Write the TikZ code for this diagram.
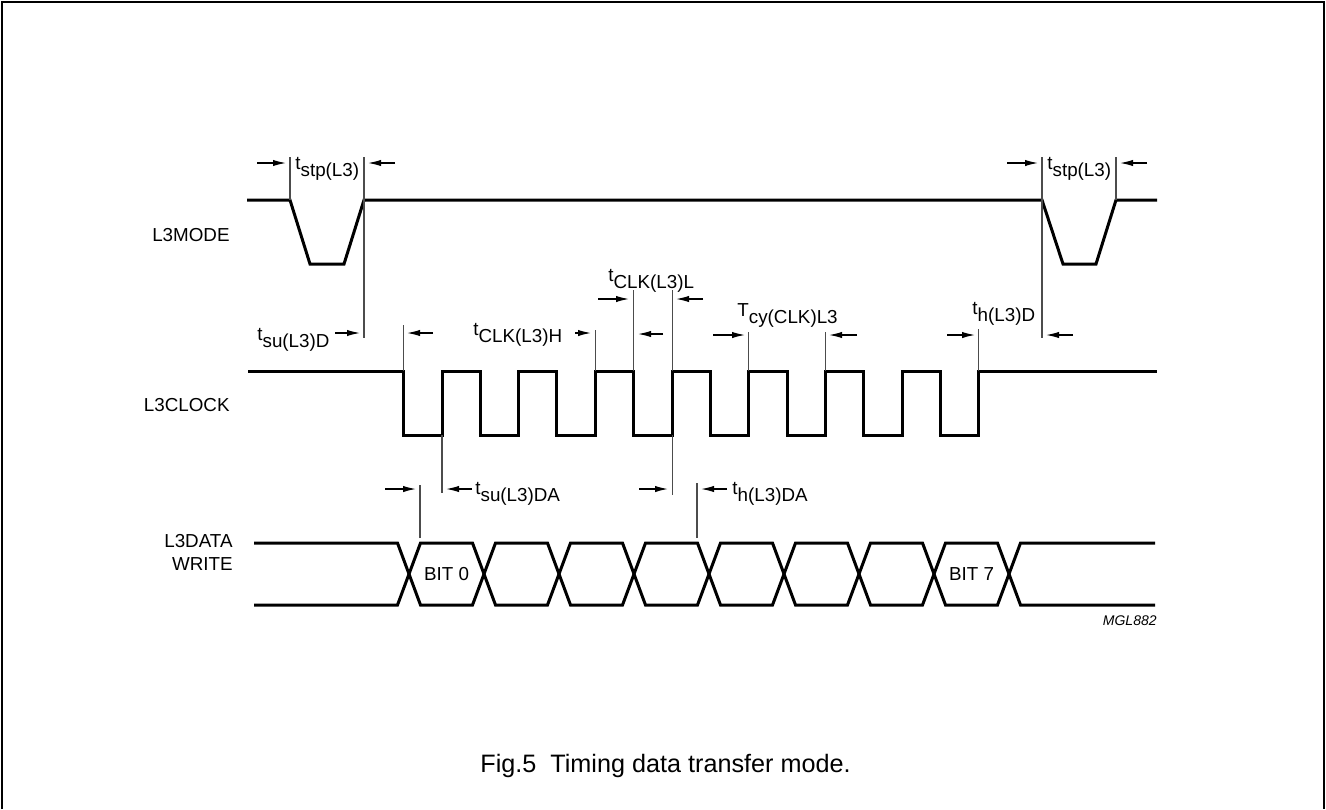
\documentclass[tikz,border=0pt]{standalone}
\usepackage{fontspec}
\setmainfont{Liberation Sans}
\usetikzlibrary{arrows.meta}
\def\tsub#1#2{\raisebox{0.65ex}{#1}#2}% symbol raised, index on the baseline

\begin{document}
\begin{tikzpicture}
    [x=0.5pt,y=-0.5pt,
     sig/.style={black,line width=1.5pt,line join=miter},
     tick/.style={black!70,line width=0.55pt},
     dim/.style={black,line width=0.65pt,-{Latex[length=6.5pt,width=3.2pt]}},
     txt/.style={inner sep=0pt,font=\fontsize{9.4}{11.5}\selectfont}]
    \useasboundingbox (0,0) rectangle (1326,809);
    \draw[line width=0.8pt] (2,809) -- (2,2) -- (1324,2) -- (1324,809);

    % signal names
    \node[txt,anchor=base east] (nmode) at (230,241) {L3MODE};
    \node[txt,anchor=base east] (nclock) at (230,411) {L3CLOCK};
    \node[txt,anchor=base east,align=right] (ndata) at (233,570) {L3DATA\\WRITE};

    % L3MODE
    \coordinate (mfa) at (290,200);
    \coordinate (mra) at (364,200);
    \coordinate (mfb) at (1042,200);
    \coordinate (mrb) at (1116,200);
    \draw[sig] (247,200) -- (mfa) -- (310,264) -- (344,264) -- (mra)
        -- (mfb) -- (1063,264) -- (1096,264) -- (mrb) -- (1157,200);

    % L3CLOCK
    \foreach \k in {0,...,7} {
        \coordinate (f\k) at ({403.5+76.7*\k},371);
        \coordinate (r\k) at ({442+76.7*\k},371);
    }
    \draw[sig] (248,371) foreach \k in {0,...,7} {
        -- ({403.5+76.7*\k},371) -- ({403.5+76.7*\k},435)
        -- ({442+76.7*\k},435) -- ({442+76.7*\k},371) } -- (1157,371);

    % L3DATA
    \def\h{11.5}
    \draw[sig] (254,543) -- (409-\h,543) -- (409,574) -- (409-\h,605) -- (254,605);
    \foreach \k in {0,...,7}
        \draw[sig] ({409+75*\k},574) -- ({409+75*\k+\h},543) -- ({484+75*\k-\h},543)
            -- ({484+75*\k},574) -- ({484+75*\k-\h},605) -- ({409+75*\k+\h},605) -- cycle;
    \draw[sig] (1155,543) -- (1009+\h,543) -- (1009,574) -- (1009+\h,605) -- (1155,605);
    \node[txt] (bit0) at (446.5,574) {BIT 0};
    \node[txt] (bit7) at (971.5,574) {BIT 7};
    \coordinate (dva) at (420,538);
    \coordinate (dvb) at (697,538);

    % reference lines
    \draw[tick] (mfa) -- ++(0,-43);
    \draw[tick] (mra) ++(0,-43) -- (364,338);
    \draw[tick] (mfb) ++(0,-43) -- (1042,338);
    \draw[tick] (mrb) -- ++(0,-43);
    \draw[tick] (f0) -- ++(0,-46);
    \draw[tick] (r2) -- ++(0,-41);
    \draw[tick] (f3) -- ++(0,-81);
    \draw[tick] (r3) -- ++(0,-81);
    \draw[tick] (r4) -- ++(0,-39);
    \draw[tick] (r5) -- ++(0,-39);
    \draw[tick] (r7) -- ++(0,-42);
    \draw[tick] (r0) ++(0,64) -- ++(0,58);
    \draw[tick] (r3) ++(0,64) -- ++(0,60);
    \draw[tick] (dva) -- ++(0,-53);
    \draw[tick] (dvb) -- ++(0,-55);

    % timing arrows
    \draw[dim] (257,163) -- (286,163);
    \draw[dim] (395,163) -- (368,163);
    \node[txt,anchor=base west] (tstpa) at (295,176) {\tsub{t}{stp(L3)}};
    \draw[dim] (1007,163) -- (1038,163);
    \draw[dim] (1147,163) -- (1120,163);
    \node[txt,anchor=base west] (tstpb) at (1047,176) {\tsub{t}{stp(L3)}};

    \node[txt,anchor=base west] (tsud) at (257,347) {\tsub{t}{su(L3)D}};
    \draw[dim] (335,333) -- (360,333);
    \draw[dim] (433,333) -- (407,333);

    \node[txt,anchor=base west] (tclkh) at (473,342) {\tsub{t}{CLK(L3)H}};
    \draw[dim] (575,333) -- (591,333);
    \draw[dim] (663,334) -- (638,334);

    \node[txt,anchor=base west] (tclkl) at (608,288) {\tsub{t}{CLK(L3)L}};
    \draw[dim] (598,299) -- (629,299);
    \draw[dim] (703,299) -- (676,299);

    \node[txt,anchor=base west] (tcy) at (737,323) {\tsub{T}{cy(CLK)L3}};
    \draw[dim] (713,335) -- (745,335);
    \draw[dim] (857,335) -- (829,335);

    \node[txt,anchor=base west] (thd) at (972,321) {\tsub{t}{h(L3)D}};
    \draw[dim] (947,335) -- (975,335);
    \draw[dim] (1073,335) -- (1046,335);

    \node[txt,anchor=base west] (tsuda) at (475,501) {\tsub{t}{su(L3)DA}};
    \draw[dim] (385,489) -- (416,489);
    \draw[dim] (472,489) -- (446,489);

    \node[txt,anchor=base west] (thda) at (732,501) {\tsub{t}{h(L3)DA}};
    \draw[dim] (639,489) -- (668,489);
    \draw[dim] (727,489) -- (701,489);

    \node[inner sep=0pt,anchor=base east,font=\fontsize{7}{8}\selectfont\itshape] (code) at (1157,625) {MGL882};
    \node[inner sep=0pt,anchor=base west,font=\fontsize{12.6}{15}\selectfont] (caption) at (480,772) {Fig.5\ \ Timing data transfer mode.};
\end{tikzpicture}
\end{document}
